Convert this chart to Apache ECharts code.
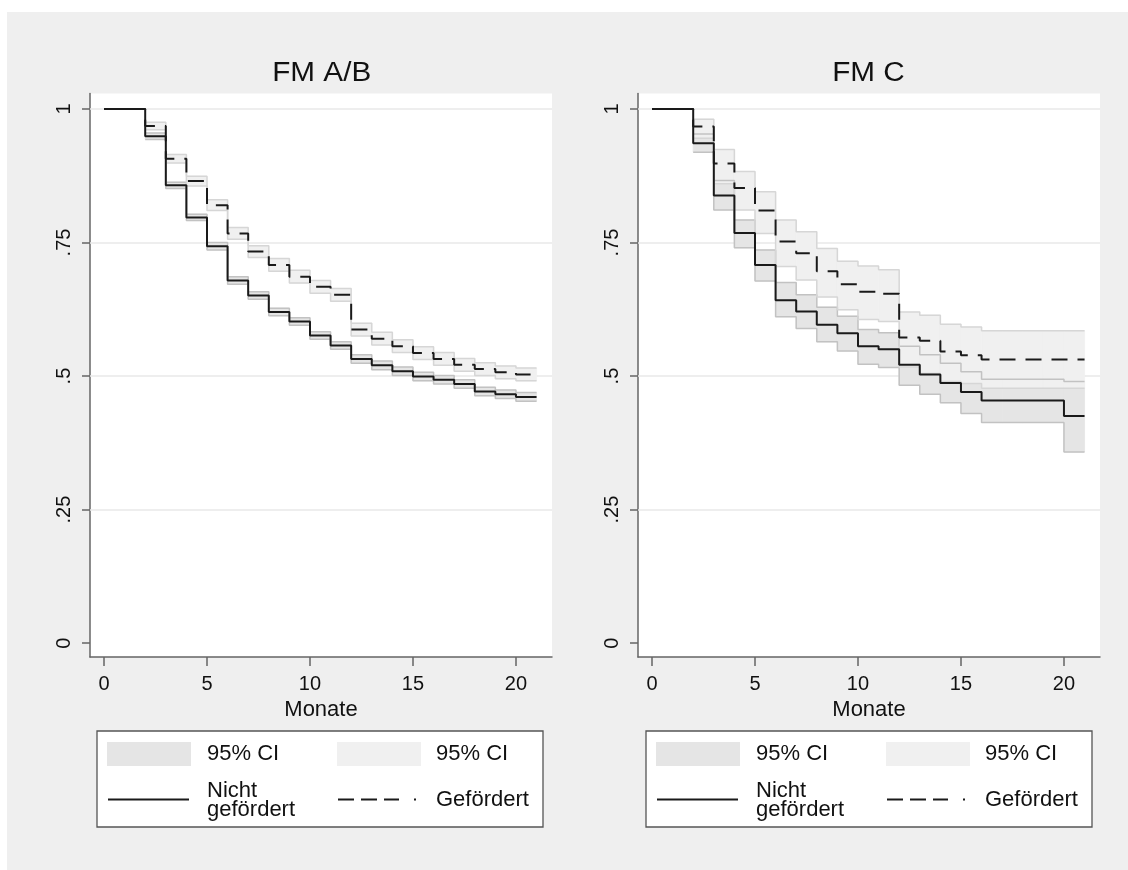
<!DOCTYPE html>
<html><head><meta charset="utf-8">
<script src="https://cdn.jsdelivr.net/npm/echarts@6/dist/echarts.min.js"></script>
<style>html,body{margin:0;padding:0;background:#fff}#c{width:1128px;height:870px}</style>
</head><body><div id="c"></div>
<script>
// ---------- data ----------
const months = [0,2,3,4,5,6,7,8,9,10,11,12,13,14,15,16,17,18,19,20,21];
const xTicks = [0,5,10,15,20];
const yTicks = [0,0.25,0.5,0.75,1];
const yTickLabels = ['0','.25','.5','.75','1'];
const panelTitles = ['FM A/B','FM C'];
const xAxisName = 'Monate';
const legendCI = '95% CI';
const legendNG = 'Nicht\ngefördert';
const legendG = 'Gefördert';

// FM A/B
const ngAB    = [1,0.949,0.857,0.797,0.743,0.679,0.651,0.620,0.602,0.576,0.557,0.532,0.520,0.509,0.499,0.493,0.485,0.471,0.466,0.461,0.461];
const ngAB_lo = [1,0.943,0.851,0.791,0.736,0.672,0.644,0.613,0.595,0.569,0.550,0.524,0.512,0.501,0.491,0.485,0.477,0.463,0.458,0.453,0.453];
const ngAB_hi = [1,0.955,0.863,0.803,0.750,0.686,0.658,0.627,0.609,0.583,0.564,0.540,0.528,0.517,0.507,0.501,0.493,0.479,0.474,0.469,0.469];
const gAB     = [1,0.968,0.907,0.865,0.820,0.767,0.733,0.708,0.686,0.667,0.652,0.587,0.570,0.556,0.543,0.532,0.521,0.513,0.507,0.503,0.503];
const gAB_lo  = [1,0.961,0.899,0.856,0.810,0.756,0.722,0.696,0.674,0.655,0.640,0.575,0.558,0.544,0.531,0.520,0.509,0.501,0.495,0.491,0.491];
const gAB_hi  = [1,0.975,0.915,0.874,0.830,0.778,0.744,0.720,0.698,0.679,0.664,0.599,0.582,0.568,0.555,0.544,0.533,0.525,0.519,0.515,0.515];

// FM C
const ngC    = [1,0.936,0.838,0.768,0.708,0.642,0.621,0.596,0.580,0.556,0.550,0.521,0.503,0.487,0.470,0.454,0.454,0.454,0.454,0.425,0.425];
const ngC_lo = [1,0.919,0.811,0.740,0.678,0.611,0.589,0.564,0.547,0.522,0.516,0.483,0.466,0.450,0.430,0.413,0.413,0.413,0.413,0.358,0.358];
const ngC_hi = [1,0.953,0.866,0.792,0.736,0.675,0.652,0.629,0.612,0.587,0.581,0.556,0.540,0.524,0.508,0.494,0.494,0.494,0.494,0.490,0.490];
const gC     = [1,0.967,0.898,0.852,0.810,0.752,0.730,0.696,0.672,0.658,0.654,0.572,0.566,0.546,0.539,0.531,0.531,0.531,0.531,0.531,0.531];
const gC_lo  = [1,0.945,0.860,0.811,0.767,0.705,0.680,0.648,0.624,0.606,0.602,0.517,0.505,0.490,0.486,0.477,0.477,0.477,0.477,0.477,0.477];
const gC_hi  = [1,0.981,0.924,0.883,0.845,0.792,0.770,0.739,0.715,0.706,0.699,0.620,0.614,0.597,0.592,0.585,0.585,0.585,0.585,0.585,0.585];

// ---------- chart ----------
const FONT = '"Liberation Sans", Arial, Helvetica, sans-serif';
const AXIS_COLOR = '#666';
const chart = echarts.init(document.getElementById('c'), null, {renderer:'canvas'});

const gridLefts = [90, 638];
const grids = gridLefts.map(l => ({left:l, top:93.5, width:462, height:563.5, show:true, backgroundColor:'#ffffff', borderWidth:0, containLabel:false}));

const xAxes = [0,1].map(i => ({
  type:'value', gridIndex:i, min:-0.68, max:21.75,
  name:xAxisName, nameLocation:'middle', nameGap:38,
  nameTextStyle:{fontFamily:FONT, fontSize:22, color:'#111'},
  axisLine:{show:true, onZero:false, lineStyle:{color:AXIS_COLOR, width:1.5}},
  axisTick:{show:true, length:9, customValues:xTicks, lineStyle:{color:AXIS_COLOR, width:1.5}},
  axisLabel:{show:true, customValues:xTicks, margin:17, fontFamily:FONT, fontSize:20, color:'#111'},
  splitLine:{show:false}
}));

const yAxes = [0,1].map(i => ({
  type:'value', gridIndex:i, min:-0.026, max:1.029,
  axisLine:{show:true, onZero:false, lineStyle:{color:AXIS_COLOR, width:1.5}},
  axisTick:{show:true, length:8, customValues:yTicks, lineStyle:{color:AXIS_COLOR, width:1.5}},
  axisLabel:{show:true, customValues:yTicks, rotate:90, margin:16, fontFamily:FONT, fontSize:20, color:'#111',
    formatter: v => { for (let k=0;k<yTicks.length;k++) if (Math.abs(yTicks[k]-v)<1e-6) return yTickLabels[k]; return ''; }},
  splitLine:{show:false}
}));

function bandSeries(idx, lo, hi, fill) {
  const data = [];
  for (let i = 1; i < months.length - 1; i++) data.push([months[i], months[i+1], lo[i], hi[i]]);
  return {
    type:'custom', xAxisIndex:idx, yAxisIndex:idx, silent:true, animation:false,
    encode:{x:[0,1], y:[2,3]},
    data:data,
    renderItem:(params, api) => {
      const p0 = api.coord([api.value(0), api.value(3)]);
      const p1 = api.coord([api.value(1), api.value(2)]);
      return {type:'rect', shape:{x:p0[0], y:p0[1], width:p1[0]-p0[0], height:p1[1]-p0[1]},
              style:{fill:fill, stroke:fill, lineWidth:0.8}};
    }
  };
}

function panelSeries(idx, ng, ngLo, ngHi, g, gLo, gHi) {
  const pts = arr => months.map((m,i) => [m, arr[i]]);
  const ptsFrom2 = arr => months.slice(1).map((m,i) => [m, arr[i+1]]);
  const common = {type:'line', xAxisIndex:idx, yAxisIndex:idx, step:'end', symbol:'none', showSymbol:false, silent:true, animation:false};
  return [
    Object.assign({}, common, {data:[], markLine:{silent:true, z:1, symbol:'none', animation:false, label:{show:false},
        lineStyle:{color:'#e8e8e8', width:1.5, type:'solid'},
        data: yTicks.filter(v => v > 0).map(v => ({yAxis:v}))}}),
    bandSeries(idx, ngLo, ngHi, '#e5e5e5'),
    Object.assign({}, common, {data:ptsFrom2(ngLo), lineStyle:{color:'#c2c2c2', width:1.5}}),
    Object.assign({}, common, {data:ptsFrom2(ngHi), lineStyle:{color:'#c2c2c2', width:1.5}}),
    bandSeries(idx, gLo, gHi, '#f0f0f0'),
    Object.assign({}, common, {data:ptsFrom2(gLo), lineStyle:{color:'#d6d6d6', width:1.5}}),
    Object.assign({}, common, {data:ptsFrom2(gHi), lineStyle:{color:'#d6d6d6', width:1.5}}),
    Object.assign({}, common, {data:pts(ng), lineStyle:{color:'#1a1a1a', width:2}}),
    Object.assign({}, common, {data:pts(g), lineStyle:{color:'#1a1a1a', width:2, type:[16,10]}})
  ];
}

function legendGraphic(dx) {
  const f = '22px ' + FONT;
  return [
    {type:'rect', shape:{x:97+dx, y:731, width:446, height:96}, style:{fill:'#fff', stroke:'#555', lineWidth:1.3}},
    {type:'rect', shape:{x:107+dx, y:742, width:84, height:24}, style:{fill:'#e5e5e5'}},
    {type:'text', x:207+dx, y:754, style:{text:legendCI, font:f, fill:'#111', textVerticalAlign:'middle'}},
    {type:'rect', shape:{x:337+dx, y:742, width:84, height:24}, style:{fill:'#f0f0f0'}},
    {type:'text', x:436+dx, y:754, style:{text:legendCI, font:f, fill:'#111', textVerticalAlign:'middle'}},
    {type:'line', shape:{x1:108+dx, y1:799.5, x2:189+dx, y2:799.5}, style:{stroke:'#1a1a1a', lineWidth:2}},
    {type:'text', x:207+dx, y:800, style:{text:legendNG, font:f, fill:'#111', textVerticalAlign:'middle', lineHeight:19}},
    {type:'line', shape:{x1:338+dx, y1:799.5, x2:417+dx, y2:799.5}, style:{stroke:'#1a1a1a', lineWidth:2, lineDash:[16,7,16,7,15,15,2,20]}},
    {type:'text', x:436+dx, y:800, style:{text:legendG, font:f, fill:'#111', textVerticalAlign:'middle'}}
  ];
}

const graphics = [
  {type:'rect', z:100, shape:{x:0, y:0, width:1128, height:12}, style:{fill:'#fff'}},
  {type:'rect', z:100, shape:{x:0, y:0, width:7, height:870}, style:{fill:'#fff'}},
  {type:'text', x:321.7, y:73.5, scaleX:1.1, style:{text:panelTitles[0], font:'27px ' + FONT, fill:'#111', textAlign:'center', textVerticalAlign:'middle'}},
  {type:'text', x:868.5, y:73.5, scaleX:1.1, style:{text:panelTitles[1], font:'27px ' + FONT, fill:'#111', textAlign:'center', textVerticalAlign:'middle'}}
].concat(legendGraphic(0), legendGraphic(549));

chart.setOption({
  backgroundColor:'#efefef',
  animation:false,
  grid:grids,
  xAxis:xAxes,
  yAxis:yAxes,
  series: panelSeries(0, ngAB, ngAB_lo, ngAB_hi, gAB, gAB_lo, gAB_hi)
    .concat(panelSeries(1, ngC, ngC_lo, ngC_hi, gC, gC_lo, gC_hi)),
  graphic:graphics
});
</script></body></html>
